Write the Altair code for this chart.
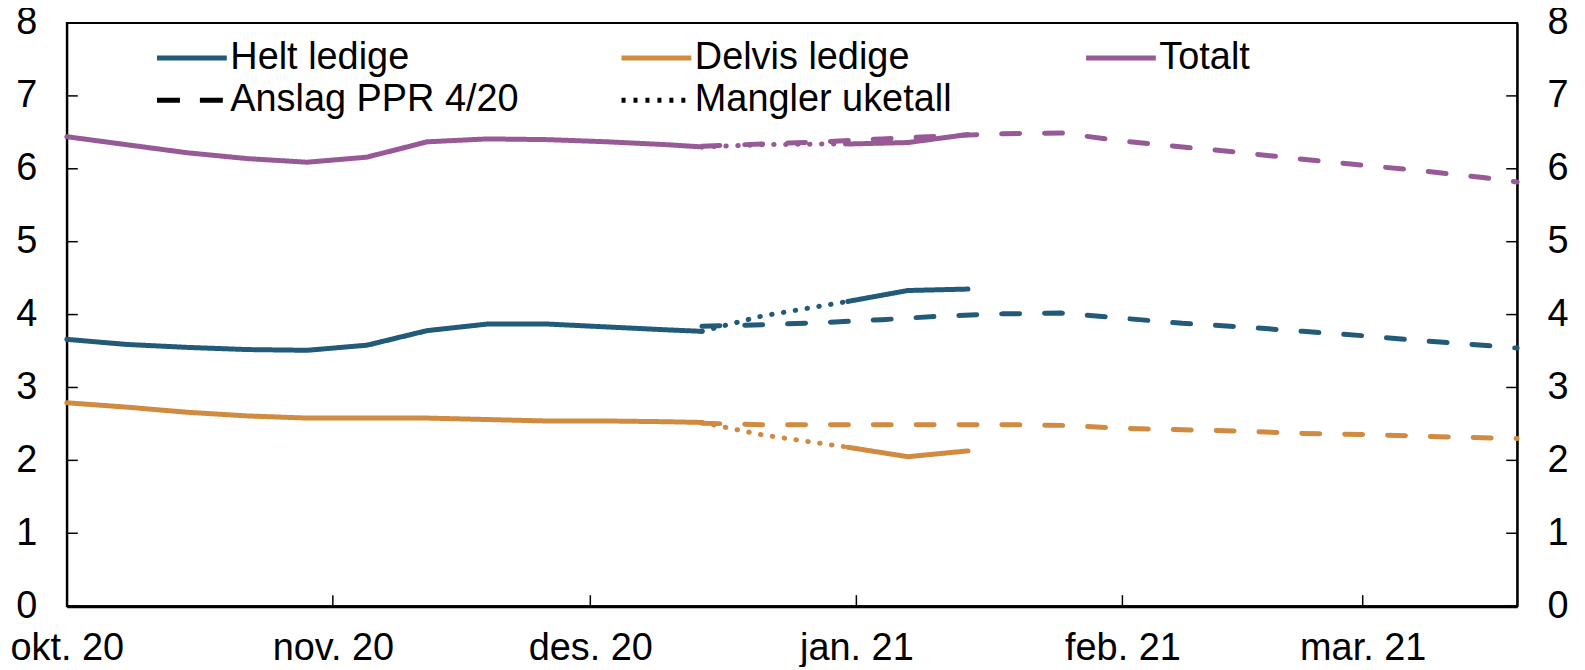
import altair as alt
import pandas as pd

FONT = "Liberation Sans"
FS = 38

SERIES = ["Helt ledige", "Delvis ledige", "Totalt"]
COLORS = ["#225a7a", "#d08b40", "#985a96"]
KINDS = ["faktisk", "anslag", "mangler"]
DASHES = [[1, 0], [18, 25], [0.5, 11.5]]

# legend entries (ordered so the 3-column grid reads row by row)
LEGEND_LABELS = ["Helt ledige", "Anslag PPR 4/20", "Delvis ledige", "Mangler uketall", "Totalt"]
LEGEND_COLORS = ["#225a7a", "#000000", "#d08b40", "#000000", "#985a96"]
LEGEND_DASHES = [[1, 0], [23, 20], [1, 0], [4, 8], [1, 0]]

# Actual weekly figures, first part
actual1_dates = ["2020-10-01", "2020-10-08", "2020-10-15", "2020-10-22", "2020-10-29",
                 "2020-11-05", "2020-11-12", "2020-11-19", "2020-11-26", "2020-12-03",
                 "2020-12-10", "2020-12-14"]
helt_actual1 = [3.66, 3.59, 3.55, 3.52, 3.51, 3.58, 3.78, 3.87, 3.87, 3.83, 3.79, 3.77]
delvis_actual1 = [2.79, 2.73, 2.66, 2.61, 2.58, 2.58, 2.58, 2.56, 2.54, 2.54, 2.53, 2.52]
totalt_actual1 = [6.44, 6.33, 6.22, 6.14, 6.09, 6.16, 6.37, 6.41, 6.40, 6.37, 6.33, 6.30]

# Missing weekly figures (dotted)
missing_dates = ["2020-12-14", "2020-12-21", "2020-12-28", "2020-12-31"]
helt_missing = [3.77, 3.98, 4.12, 4.18]
delvis_missing = [2.52, 2.35, 2.23, 2.18]
totalt_missing = [6.30, 6.33, 6.34, 6.34]

# Actual weekly figures, second part
actual2_dates = ["2020-12-31", "2021-01-07", "2021-01-14"]
helt_actual2 = [4.18, 4.33, 4.35]
delvis_actual2 = [2.18, 2.05, 2.13]
totalt_actual2 = [6.34, 6.36, 6.47]

# Forecast PPR 4/20 (dashed)
forecast_dates = ["2020-12-14", "2020-12-21", "2020-12-28", "2021-01-04", "2021-01-11",
                  "2021-01-18", "2021-01-25", "2021-02-01", "2021-02-08", "2021-02-15",
                  "2021-02-22", "2021-03-01", "2021-03-08", "2021-03-15", "2021-03-19"]
helt_forecast = [3.84, 3.86, 3.89, 3.93, 3.98, 4.01, 4.02, 3.95, 3.88, 3.83, 3.77, 3.71, 3.64, 3.58, 3.54]
delvis_forecast = [2.51, 2.49, 2.49, 2.49, 2.49, 2.49, 2.48, 2.44, 2.42, 2.40, 2.37, 2.355, 2.33, 2.31, 2.30]
totalt_forecast = [6.31, 6.34, 6.37, 6.41, 6.45, 6.48, 6.49, 6.38, 6.30, 6.22, 6.13, 6.05, 5.97, 5.88, 5.82]

y_tick_values = [0, 1, 2, 3, 4, 5, 6, 7, 8]
month_starts = ["2020-10-01", "2020-11-01", "2020-12-01", "2021-01-01", "2021-02-01", "2021-03-01"]
x_start, x_end = "2020-10-01", "2021-03-19"

# ---------------------------------------------------------------- build table
rows = []
blocks = [
    ("faktisk", "a1", actual1_dates, [helt_actual1, delvis_actual1, totalt_actual1]),
    ("mangler", "m", missing_dates, [helt_missing, delvis_missing, totalt_missing]),
    ("faktisk", "a2", actual2_dates, [helt_actual2, delvis_actual2, totalt_actual2]),
    ("anslag", "f", forecast_dates, [helt_forecast, delvis_forecast, totalt_forecast]),
]
for kind, seg, dates, vals in blocks:
    for s, series_vals in zip(SERIES, vals):
        for d, v in zip(dates, series_vals):
            rows.append({"date": d, "value": v, "serie": s, "kind": kind, "seg": f"{s}-{seg}"})
df = pd.DataFrame(rows)


def ms(d):
    return int(pd.Timestamp(d, tz="UTC").value // 10**6)


W, H = 1455, 585
TICK = 11

xscale = alt.Scale(type="utc", domain=[ms(x_start), ms(x_end)], nice=False)
yscale = alt.Scale(domain=[0, 8], nice=False)

label_expr = ("['jan.','feb.','mar.','apr.','mai','jun.','jul.','aug.','sep.','okt.','nov.','des.']"
              "[utcmonth(datum.value)] + ' ' + utcFormat(datum.value, '%y')")

xaxis = alt.Axis(values=[ms(d) for d in month_starts], labelExpr=label_expr, title=None,
                 grid=False, ticks=False, tickSize=0, labelPadding=24, labelFontSize=FS,
                 labelFont=FONT, labelColor="black", domain=True, domainWidth=3,
                 domainColor="black", labelFlush=False, labelOverlap=False, labelBound=False)

yaxis_left = alt.Axis(orient="left", values=y_tick_values, title=None, grid=False,
                      ticks=False, tickSize=0, labelPadding=30, labelFontSize=FS,
                      labelFont=FONT, labelColor="black", domain=True, domainWidth=2,
                      domainColor="black", labelOverlap=False, labelFlush=False)
yaxis_right = alt.Axis(orient="right", values=y_tick_values, title=None, grid=False,
                       ticks=False, tickSize=0, labelPadding=30, labelFontSize=FS,
                       labelFont=FONT, labelColor="black", domain=True, domainWidth=2,
                       domainColor="black", labelOverlap=False, labelFlush=False)

lines = alt.Chart(df).mark_line(strokeWidth=5, strokeCap="round", strokeJoin="round").encode(
    x=alt.X("date:T", scale=xscale, axis=xaxis),
    y=alt.Y("value:Q", scale=yscale, axis=yaxis_left),
    color=alt.Color("serie:N", scale=alt.Scale(domain=SERIES, range=COLORS), legend=None),
    strokeDash=alt.StrokeDash("kind:N", scale=alt.Scale(domain=KINDS, range=DASHES), legend=None),
    detail="seg:N",
)

ytick_df = pd.DataFrame({"v": y_tick_values})
left_ticks = alt.Chart(ytick_df).mark_rule(color="black", strokeWidth=1.5).encode(
    y=alt.Y("v:Q", scale=yscale, axis=None),
    x=alt.value(0), x2=alt.value(TICK),
)
right_ticks = alt.Chart(ytick_df).mark_rule(color="black", strokeWidth=1.5).encode(
    y=alt.Y("v:Q", scale=yscale, axis=yaxis_right),
    x=alt.value(W - TICK), x2=alt.value(W),
)
xtick_df = pd.DataFrame({"date": month_starts[1:]})
bottom_ticks = alt.Chart(xtick_df).mark_rule(color="black", strokeWidth=1.5).encode(
    x=alt.X("date:T", scale=xscale, axis=xaxis),
    y=alt.value(H - TICK), y2=alt.value(H),
)

legend = alt.Legend(title=None, orient="none", legendX=88, legendY=14, columns=3,
                    gridAlign="all", columnPadding=100, rowPadding=0.5, clipHeight=42,
                    symbolType="stroke", symbolSize=4900, symbolStrokeWidth=5,
                    labelFontSize=FS, labelFont=FONT, labelColor="black",
                    labelLimit=600, labelOffset=1)

leg_df = pd.DataFrame({"leg": LEGEND_LABELS, "date": [x_start] * 5, "value": [None] * 5})
legend_layer = alt.Chart(leg_df).mark_line(strokeWidth=5, strokeCap="round").encode(
    x=alt.X("date:T", scale=xscale, axis=xaxis),
    y=alt.Y("value:Q", scale=yscale, axis=None),
    color=alt.Color("leg:N", scale=alt.Scale(domain=LEGEND_LABELS, range=LEGEND_COLORS), legend=legend),
    strokeDash=alt.StrokeDash("leg:N", scale=alt.Scale(domain=LEGEND_LABELS, range=LEGEND_DASHES), legend=legend),
)

chart = alt.layer(lines, left_ticks, right_ticks, bottom_ticks, legend_layer).resolve_scale(
    color="independent", strokeDash="independent"
).resolve_axis(y="independent").properties(
    width=W, height=H,
    autosize=alt.AutoSizeParams(type="none"),
    padding={"left": 59, "top": 14, "right": 60, "bottom": 60},
    background="white",
).configure_view(stroke="black", strokeWidth=2)

chart.save("out.html", embed_options={"renderer": "svg", "actions": False})
